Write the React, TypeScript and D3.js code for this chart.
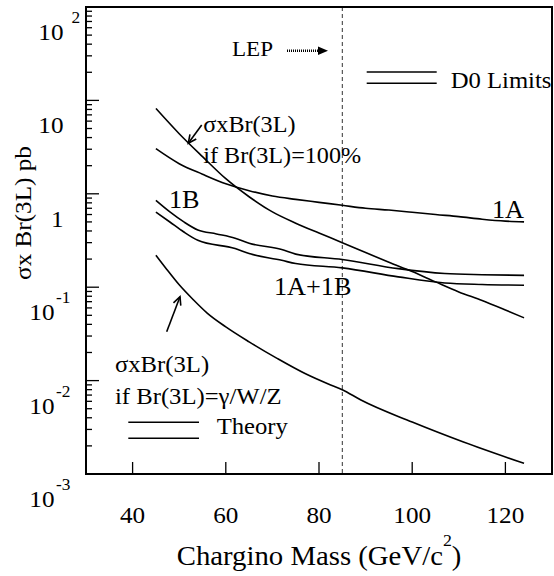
import React from "react";
import * as d3 from "d3";

// ---- data ----
const steepMass = [45, 50, 55, 60, 65, 70, 75, 80, 85, 90, 95, 100, 105, 110, 115, 120, 124];
const steepVals = [8.2, 4.4, 2.5, 1.45, 0.93, 0.64, 0.485, 0.38, 0.30, 0.235, 0.185, 0.147, 0.114, 0.089, 0.072, 0.057, 0.047];

const oneAMass = [45, 50, 55, 60, 65, 70, 75, 80, 85, 90, 95, 100, 105, 110, 115, 120, 124];
const oneAVals = [3.04, 2.1, 1.62, 1.28, 1.08, 0.946, 0.871, 0.81, 0.753, 0.70, 0.67, 0.635, 0.60, 0.57, 0.535, 0.51, 0.50];

const oneBMass = [45, 48, 51, 54, 58, 62, 65, 72, 75, 85, 97, 107, 115, 124];
const oneBVals = [0.85, 0.64, 0.50, 0.41, 0.372, 0.335, 0.296, 0.253, 0.226, 0.198, 0.158, 0.140, 0.136, 0.134];

const sumMass = [45, 48, 51, 54, 62, 65, 72, 75, 85, 97, 107, 115, 124];
const sumVals = [0.638, 0.499, 0.39, 0.318, 0.259, 0.229, 0.194, 0.179, 0.161, 0.129, 0.111, 0.107, 0.105];

const gwzMass = [45, 47.3, 50, 53, 56, 60, 65, 71, 77, 82, 85, 89, 100, 111, 124];
const gwzVals = [0.22, 0.156, 0.106, 0.0736, 0.0528, 0.0376, 0.026, 0.0173, 0.0119, 0.0092, 0.008, 0.0062, 0.0036, 0.0022, 0.0013];

const xTicks = [40, 60, 80, 100, 120];
const yDecades = [-3, -2, -1, 0, 1, 2];
const lepMass = 85;

// ---- layout ----
const W = 554, H = 576;
const L = 86, R = 552, T = 7, B = 474;
const SX = 1.05;
const FONT = "'Liberation Serif','Times New Roman',Times,serif";

const x = d3.scaleLinear().domain([30, 130]).range([L, R]);
const y = d3.scaleLog().domain([1e-3, 1e2]).range([B, T]);

const line = d3
  .line<[number, number]>()
  .x((d) => x(d[0]))
  .y((d) => y(d[1]))
  .curve(d3.curveMonotoneX);

const zip = (a: number[], b: number[]) => a.map((m, i) => [m, b[i]] as [number, number]);

function Txt({ x: tx, y: ty, size, anchor = "start", rotate = 0, children }: any) {
  return (
    <text
      transform={`translate(${tx},${ty}) rotate(${rotate}) scale(${SX},1)`}
      fontSize={size}
      textAnchor={anchor}
      fontFamily={FONT}
      fill="#000"
    >
      {children}
    </text>
  );
}

function VArrow({ x1, y1, x2, y2 }: any) {
  const a = Math.atan2(y2 - y1, x2 - x1);
  const len = 9, sp = 0.45;
  const p1 = [x2 - len * Math.cos(a - sp), y2 - len * Math.sin(a - sp)];
  const p2 = [x2 - len * Math.cos(a + sp), y2 - len * Math.sin(a + sp)];
  return (
    <g stroke="#000" strokeWidth={1.6} fill="none">
      <line x1={x1} y1={y1} x2={x2} y2={y2} />
      <polyline points={`${p1[0]},${p1[1]} ${x2},${y2} ${p2[0]},${p2[1]}`} />
    </g>
  );
}

export default function App() {
  const series = [
    zip(steepMass, steepVals),
    zip(oneAMass, oneAVals),
    zip(oneBMass, oneBVals),
    zip(sumMass, sumVals),
    zip(gwzMass, gwzVals),
  ];

  const minor: number[] = [];
  yDecades.slice(0, -1).forEach((e) => {
    for (let k = 2; k <= 9; k++) minor.push(k * Math.pow(10, e));
  });

  return (
    <svg
      width={W}
      height={H}
      style={{ position: "absolute", left: 0, top: 0, background: "#fff" }}
    >
      <rect x={0} y={0} width={W} height={H} fill="#fff" />

      {/* LEP dashed line */}
      <line
        x1={x(lepMass)}
        x2={x(lepMass)}
        y1={T}
        y2={B}
        stroke="#333"
        strokeWidth={1}
        strokeDasharray="4,3"
      />

      {/* curves */}
      {series.map((s, i) => (
        <path key={i} d={line(s) || ""} fill="none" stroke="#000" strokeWidth={1.6} />
      ))}

      {/* frame */}
      <rect x={L} y={T} width={R - L} height={B - T} fill="none" stroke="#000" strokeWidth={2} />

      {/* y ticks */}
      {yDecades.map((e) => (
        <line key={"M" + e} x1={L} x2={L + 13} y1={y(Math.pow(10, e))} y2={y(Math.pow(10, e))} stroke="#000" strokeWidth={1.3} />
      ))}
      {minor.map((v, i) => (
        <line key={"m" + i} x1={L} x2={L + 6} y1={y(v)} y2={y(v)} stroke="#000" strokeWidth={1.3} />
      ))}
      {yDecades.map((e) => {
        const ty = y(Math.pow(10, e));
        const neg = e < 0;
        return (
          <g key={"yl" + e}>
            <Txt x={neg ? 54.5 : 63.5} y={ty + 33} size={24} anchor="end">
              {e === 0 ? "1" : "10"}
            </Txt>
            {e !== 0 && e !== 1 && (
              <Txt x={neg ? 56 : 71.5} y={ty + 16} size={16.5}>
                {e < 0 ? "-" + Math.abs(e) : String(e)}
              </Txt>
            )}
          </g>
        );
      })}

      {/* x ticks */}
      {xTicks.map((t) => (
        <g key={"xt" + t}>
          <line x1={x(t)} x2={x(t)} y1={B} y2={B - 12} stroke="#000" strokeWidth={1.3} />
          <Txt x={x(t)} y={523} size={24} anchor="middle">
            {t}
          </Txt>
        </g>
      ))}

      {/* axis titles */}
      <Txt x={176.7} y={565} size={27.4}>
        Chargino Mass (GeV/c
        <tspan dy={-19} fontSize={17}>2</tspan>
        <tspan dy={19} fontSize={27.4}>)</tspan>
      </Txt>
      <Txt x={31} y={213} size={24} anchor="middle" rotate={-90}>
        σx Br(3L) pb
      </Txt>

      {/* LEP arrow */}
      <Txt x={232} y={56} size={22}>LEP</Txt>
      <line x1={287} x2={320} y1={50.7} y2={50.7} stroke="#000" strokeWidth={2.5} strokeDasharray="1,1" />
      <polygon points="318,46.5 328,50.7 318,55" fill="#000" />

      {/* D0 Limits legend */}
      <line x1={366.7} x2={436.7} y1={72} y2={72} stroke="#000" strokeWidth={1.6} />
      <line x1={366.7} x2={436.7} y1={83.3} y2={83.3} stroke="#000" strokeWidth={1.6} />
      <Txt x={450.7} y={88} size={23.5}>D0 Limits</Txt>

      {/* top annotation */}
      <Txt x={203.3} y={132} size={23}>σxBr(3L)</Txt>
      <Txt x={203.3} y={163} size={23}>if Br(3L)=100%</Txt>
      <VArrow x1={201.7} y1={125} x2={188.3} y2={143.3} />

      {/* curve labels */}
      <Txt x={169} y={208} size={25}>1B</Txt>
      <Txt x={492} y={218} size={25}>1A</Txt>
      <Txt x={274} y={295} size={25}>1A+1B</Txt>

      {/* bottom annotation */}
      <VArrow x1={166.7} y1={331.7} x2={180} y2={296.7} />
      <Txt x={115} y={372} size={23.5}>σxBr(3L)</Txt>
      <Txt x={115} y={404} size={23.5}>if Br(3L)=γ/W/Z</Txt>

      {/* Theory legend */}
      <line x1={128.3} x2={199} y1={422.3} y2={422.3} stroke="#000" strokeWidth={1.6} />
      <line x1={128.3} x2={199} y1={438.3} y2={438.3} stroke="#000" strokeWidth={1.6} />
      <Txt x={216.7} y={434} size={23.5}>Theory</Txt>
    </svg>
  );
}
